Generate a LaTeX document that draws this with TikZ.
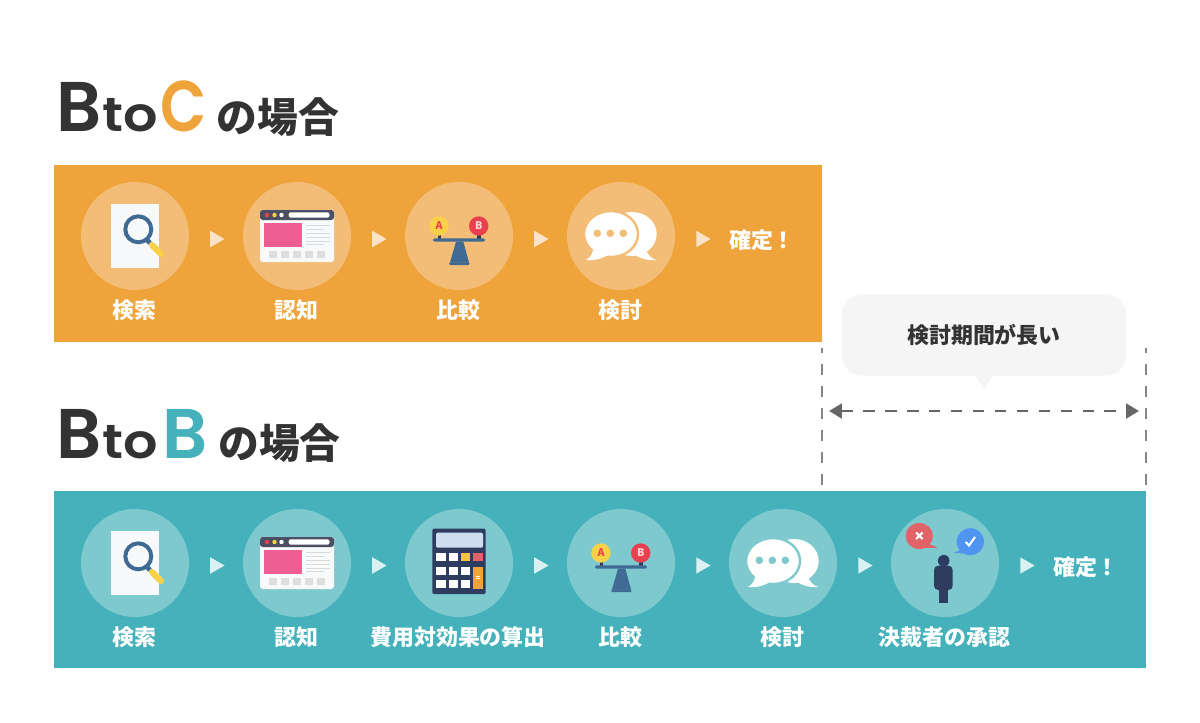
\documentclass[tikz,border=0pt]{standalone}
\usepackage{fontspec}
\setmainfont{Noto Sans CJK JP}
\newfontfamily\labelfont{Noto Sans CJK JP Medium}
\newfontfamily\latinfont{Poppins SemiBold}
\newfontfamily\widefont[FakeStretch=1.13]{Poppins SemiBold}
\newfontfamily\narrowfont[FakeStretch=.84]{Poppins SemiBold}
\usetikzlibrary{shapes.geometric,arrows.meta}
\definecolor{darktxt}{HTML}{333333}
\definecolor{bandO}{HTML}{EFA33B}
\definecolor{bandT}{HTML}{45B2BB}
\definecolor{cirO}{HTML}{F3BD77}
\definecolor{cirT}{HTML}{7EC9CE}
\definecolor{triO}{HTML}{FAE3C8}
\definecolor{triT}{HTML}{DAF0F2}
\definecolor{hintc}{HTML}{F5F5F5}
\definecolor{navy}{HTML}{2E3D5F}
\definecolor{steel}{HTML}{3E6A94}
\definecolor{barc}{HTML}{4A4F63}
\definecolor{paperc}{HTML}{F7F9FB}
\definecolor{lemon}{HTML}{F8D148}
\definecolor{rosec}{HTML}{EF5E92}
\definecolor{ballr}{HTML}{E9404F}
\definecolor{nogood}{HTML}{E26367}
\definecolor{okblue}{HTML}{4F94F0}
\definecolor{screenc}{HTML}{CFDDF0}
\tikzset{
	stepcircle/.style={circle,minimum size=2.7cm,inner sep=0},
	stepc/.style={stepcircle,fill=cirO},
	stept/.style={stepcircle,fill=cirT},
	triangle/.style={regular polygon,regular polygon sides=3,shape border rotate=-90,minimum size=.476cm,inner sep=0},
	tric/.style={triangle,fill=triO},
	trit/.style={triangle,fill=triT},
	steplabel/.style={text=white,font=\labelfont\fontsize{15.6}{18}\selectfont\bfseries,inner sep=0},
	headbig/.style={anchor=base west,inner sep=0,font=\latinfont\fontsize{50}{50}\selectfont,text=darktxt},
	headto/.style={anchor=base west,inner sep=0,font=\widefont\fontsize{34}{34}\selectfont,text=darktxt},
	headjp/.style={inner sep=0,font=\fontsize{29}{30}\selectfont\bfseries,text=darktxt},
	guide/.style={draw=gray!95,line width=1.4pt,dash pattern=on 7.8pt off 7.8pt,dash phase=4.25pt},
	dimline/.style={{Triangle[length=9.2pt,width=10.4pt]}-{Triangle[length=9.2pt,width=10.4pt]},draw=black!60,line width=2.1pt,dash pattern=on 8.2pt off 7.4pt},
	balltext/.style={inner sep=0,font=\fontsize{7.5}{8}\selectfont\bfseries},
	pics/searchicon/.style={code={
		\fill[paperc] (-24.3,-32) rectangle (24.3,32);
		\draw[#1,line width=2.8pt] (3.3,-6.7) circle [radius=13];
		\draw[#1,line width=3.5pt] (12,4) -- (15,7);
		\draw[lemon,line width=4.3pt,line cap=round] (17,9) -- (26,18);
	}},
	pics/webicon/.style={code={
		\fill[paperc,rounded corners=2pt] (-37,-26) rectangle (37,26);
		\fill[barc,rounded corners=2pt] (-37,-26) -- (37,-26) -- (37,-16) -- (-37,-16) -- cycle;
		\fill[ballr] (-30,-21) circle [radius=2.2];
		\fill[lemon] (-22.5,-21) circle [radius=2.2];
		\fill[white] (-15.5,-21) circle [radius=2.2];
		\fill[white,rounded corners=1.5pt] (-8.3,-23.7) rectangle (32.5,-18.3);
		\fill[rosec] (-32.7,-12.7) rectangle (5,11.3);
		\draw[black!15,line width=.7pt] (9,-10.3) -- (33,-10.3) (9,-7) -- (27,-7) (9,-2.7) -- (33,-2.7) (9,1.7) -- (33,1.7) (9,5.7) -- (33,5.7) (9,8.3) -- (27,8.3);
		\fill[black!13] (-28.3,15) rectangle (-20.3,22);
		\fill[black!13] (-16,15) rectangle (-8,22);
		\fill[black!13] (-4,15) rectangle (4,22);
		\fill[black!13] (8,15) rectangle (16,22);
		\fill[black!13] (20,15) rectangle (28,22);
	}},
	pics/scaleicon/.style={code={
		\fill[navy] (-21.5,-1) rectangle (-18,3);
		\fill[navy] (18.2,-1) rectangle (21.7,3);
		\fill[steel,rounded corners=1.5pt] (-26,2.3) rectangle (26,5.7);
		\fill[steel] (-3,5.7) -- (4.3,5.7) -- (10,26.5) -- (-9,26.5) -- cycle;
		\fill[steel,rounded corners=1pt] (-10,26.3) rectangle (10.7,29);
		\fill[lemon] (-20,-10) circle [radius=9.7];
		\fill[ballr] (19.7,-10) circle [radius=9.7];
		\node (A) at (-20,-10) [balltext,text=ballr] {A};
		\node (B) at (19.7,-10) [balltext,text=red!15!white] {B};
	}},
	pics/chaticon/.style={code={
		\fill[white] (11,-2) ellipse [x radius=24.7,y radius=22];
		\fill[white] (24,12) .. controls (27,20) and (31,23) .. (35.7,24) .. controls (29,25) and (20,23) .. (12,18) -- cycle;
		\path[fill=white,draw=#1,line width=1.7pt] (-10,-2) ellipse [x radius=27,y radius=23];
		\fill[white] (-27,10) .. controls (-28,18) and (-31,22) .. (-35,24) .. controls (-28,25) and (-20,23) .. (-13,19) -- cycle;
		\fill[#1] (-23.7,-2.7) circle [radius=3.8];
		\fill[#1] (-10.7,-2.7) circle [radius=3.8];
		\fill[#1] (2.3,-2.7) circle [radius=3.8];
	}},
	pics/calcicon/.style={code={
		\fill[navy,rounded corners=1pt] (-26.7,-34.3) rectangle (26.7,31);
		\fill[screenc,rounded corners=1pt] (-23,-30.3) rectangle (24,-15.3);
		\fill[white] (-22.7,-9.7) rectangle (-13,-1.7);
		\fill[white] (-10.3,-9.7) rectangle (-1,-1.7);
		\fill[lemon!85!orange] (2,-9.7) rectangle (11.3,-1.7);
		\fill[nogood] (14.3,-9.7) rectangle (23.7,-1.7);
		\fill[white] (-22.7,4.3) rectangle (-13,12);
		\fill[white] (-10.3,4.3) rectangle (-1,12);
		\fill[white] (2,4.3) rectangle (11.3,12);
		\fill[white] (-22.7,17.3) rectangle (-13,25.3);
		\fill[white] (-10.3,17.3) rectangle (-1,25.3);
		\fill[white] (2,17.3) rectangle (11.3,25.3);
		\fill[bandO] (14.3,4.3) rectangle (23.7,25.7);
		\draw[white,line width=.5pt] (16.7,13) -- (21.3,13) (16.7,15.5) -- (21.3,15.5);
	}},
	pics/personicon/.style={code={
		\fill[nogood] (-25.7,-27) ellipse [x radius=13.7,y radius=13];
		\fill[nogood] (-18,-20) -- (-7,-15.3) -- (-22,-15) -- cycle;
		\draw[white,line width=1.5pt] (-29,-30.5) -- (-22.5,-24) (-22.5,-30.5) -- (-29,-24);
		\fill[okblue] (25.3,-21.3) ellipse [x radius=13.7,y radius=13.5];
		\fill[okblue] (17,-14) -- (9.3,-10.3) -- (24,-9) -- cycle;
		\draw[white,line width=1.5pt] (20.5,-21) -- (24,-17.5) -- (30,-26);
		\fill[navy] (-1.3,-2.3) circle [radius=5.8];
		\fill[navy,rounded corners=3pt] (-11,2.7) rectangle (7.7,27);
		\fill[navy] (-6,20) rectangle (3.3,40);
	}},
}
\begin{document}
\begin{tikzpicture}[x=.025cm,y=-.025cm]
	\useasboundingbox (0,0) rectangle (1200,722);
	\fill[white] (0,0) rectangle (1200,722);
	\node (cB) at (56,132) [headbig] {B};
	\node (cTo) at (102,132) [headto] {to};
	\node (cC) at (160,132) [headbig,font=\narrowfont\fontsize{51}{51}\selectfont,text=bandO] {C};
	\node (cJp) at (278,117) [headjp] {の場合};
	\node (tB) at (56,458) [headbig] {B};
	\node (tTo) at (102,458) [headto] {to};
	\node (tC) at (162,458) [headbig,text=bandT] {B};
	\node (tJp) at (279.5,443) [headjp] {の場合};
	\fill[bandO] (54,165) rectangle (822,342);
	\fill[bandT] (54,491) rectangle (1146,668);

	\node (cSe) at (135,236) [stepc] {};
	\node (cNi) at (297,236) [stepc] {};
	\node (cHi) at (459,236) [stepc] {};
	\node (cKe) at (621,236) [stepc] {};
	\pic (cSeI) at (135,236) {searchicon=steel};
	\pic (cNiI) at (297,236) {webicon};
	\pic (cHiI) at (459,236) {scaleicon};
	\pic (cKeI) at (621,236) {chaticon=cirO};
	\node (cT1) at (215,239) [tric] {};
	\node (cT2) at (377,239) [tric] {};
	\node (cT3) at (539,239) [tric] {};
	\node (cT4) at (701,239) [tric] {};
	\node (cSeL) at (134.5,310) [steplabel] {検索};
	\node (cNiL) at (296.5,310) [steplabel] {認知};
	\node (cHiL) at (458.5,310) [steplabel] {比較};
	\node (cKeL) at (620.5,310) [steplabel] {検討};
	\node (cEnd) at (762,240) [steplabel] {確定！};

	\node (tSe) at (135,563) [stept] {};
	\node (tNi) at (297,563) [stept] {};
	\node (tHy) at (459,563) [stept] {};
	\node (tHi) at (621,563) [stept] {};
	\node (tKe) at (783,563) [stept] {};
	\node (tKa) at (945,563) [stept] {};
	\pic (tSeI) at (135,563) {searchicon=steel};
	\pic (tNiI) at (297,563) {webicon};
	\pic (tHyI) at (459,563) {calcicon};
	\pic (tHiI) at (621,563) {scaleicon};
	\pic (tKeI) at (783,563) {chaticon=cirT};
	\pic (tKaI) at (945,563) {personicon};
	\node (tT1) at (215,565.5) [trit] {};
	\node (tT2) at (377,565.5) [trit] {};
	\node (tT3) at (539,565.5) [trit] {};
	\node (tT4) at (701,565.5) [trit] {};
	\node (tT5) at (863,565.5) [trit] {};
	\node (tT6) at (1025,565.5) [trit] {};
	\node (tSeL) at (134.5,637) [steplabel] {検索};
	\node (tNiL) at (296.5,637) [steplabel] {認知};
	\node (tHyL) at (458,637) [steplabel] {費用対効果の算出};
	\node (tHiL) at (620.5,637) [steplabel] {比較};
	\node (tKeL) at (782.5,637) [steplabel] {検討};
	\node (tKaL) at (944.5,637) [steplabel] {決裁者の承認};
	\node (tEnd) at (1086,567) [steplabel] {確定！};

	\node (Ba) at (984,335) [fill=hintc,rounded corners=14pt,minimum width=7.1cm,minimum height=2.025cm,inner sep=0,text=darktxt,font=\labelfont\fontsize{15.6}{18}\selectfont\bfseries] {検討期間が長い};
	\coordinate (BaT) at (984,389);
	\fill[hintc] (974,374) -- (BaT) -- (994,374) -- cycle;

	\coordinate (GaT) at (822,348);
	\coordinate (GaB) at (822,485);
	\coordinate (GbT) at (1146,348);
	\coordinate (GbB) at (1146,485);
	\coordinate (DiL) at (829,411);
	\coordinate (DiR) at (1139,411);
	\draw[guide] (GaT) -- (GaB);
	\draw[guide] (GbT) -- (GbB);
	\draw[dimline] (DiL) -- (DiR);
\end{tikzpicture}
\end{document}
